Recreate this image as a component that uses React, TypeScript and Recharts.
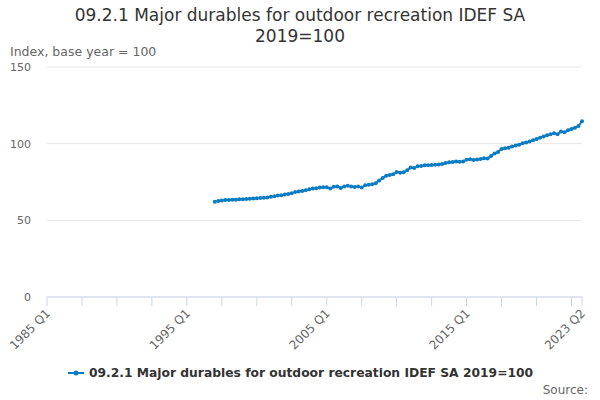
import { LineChart, Line, XAxis, YAxis, CartesianGrid } from 'recharts';

const TITLE_LINES = ['09.2.1 Major durables for outdoor recreation IDEF SA', '2019=100'];
const SERIES_NAME = '09.2.1 Major durables for outdoor recreation IDEF SA 2019=100';
const LINE_COLOR = '#0a7cc4';
const FONT = '"DejaVu Sans", sans-serif';

// quarterly categories, 1985 Q1 .. 2023 Q2
const quarters: string[] = [];
for (let y = 1985; y <= 2023; y++) {
  for (let q = 1; q <= 4; q++) {
    if (y === 2023 && q > 2) break;
    quarters.push(`${y} Q${q}`);
  }
}

const firstQuarter = '1997 Q1';

// index values from 1997 Q1 onwards
const values = [
  62.2, 62.6, 63.0, 63.2, // 1997
  63.3, 63.4, 63.5, 63.7, // 1998
  63.8, 63.9, 64.1, 64.3, // 1999
  64.4, 64.5, 64.7, 64.9, // 2000
  65.3, 65.7, 66.2, 66.3, // 2001
  66.8, 67.2, 67.6, 68.4, // 2002
  68.8, 69.2, 69.7, 70.2, // 2003
  70.8, 71.0, 71.4, 71.6, // 2004
  71.6, 70.8, 71.9, 72.0, // 2005
  71.1, 72.0, 72.5, 72.1, // 2006
  71.8, 72.0, 71.4, 72.8, // 2007
  73.2, 73.5, 74.2, 76.0, // 2008
  77.6, 79.0, 79.6, 80.0, // 2009
  81.6, 81.0, 81.4, 82.6, // 2010
  84.4, 84.2, 85.2, 85.5, // 2011
  85.9, 86.0, 86.1, 86.2, // 2012
  86.4, 86.8, 87.4, 87.8, // 2013
  88.0, 88.3, 88.2, 88.4, // 2014
  89.5, 89.8, 89.4, 89.6, // 2015
  90.0, 90.5, 90.4, 92.0, // 2016
  93.6, 94.6, 96.5, 97.0, // 2017
  97.3, 98.2, 98.8, 99.3, // 2018
  100.2, 100.8, 101.4, 102.3, // 2019
  103.0, 103.9, 104.7, 105.5, // 2020
  106.2, 106.8, 106.2, 108.0, // 2021
  107.4, 108.8, 109.6, 110.4, // 2022
  111.5, 114.6, // 2023
];

const yTicks = [0, 50, 100, 150];
const labelledQuarters = ['1985 Q1', '1995 Q1', '2005 Q1', '2015 Q1', '2023 Q2'];

const startIdx = quarters.indexOf(firstQuarter);
const data = quarters.map((quarter, i) => ({
  idx: i,
  quarter,
  value: i >= startIdx ? values[i - startIdx] : null,
}));

const lastIdx = quarters.length - 1;
const xTicks: number[] = [];
for (let i = 0; i <= lastIdx; i += 10) xTicks.push(i);
xTicks.push(lastIdx);

const QuarterTick = (props: any) => {
  const { x, y, payload } = props;
  const label = quarters[payload.value];
  if (!labelledQuarters.includes(label)) return null;
  return (
    <g transform={`translate(${x + 4},${y + 6})`}>
      <text x={0} y={0} textAnchor="end" transform="rotate(-45)" fill="#666" fontSize={12} fontFamily={FONT}>
        {label}
      </text>
    </g>
  );
};

export default function App() {
  return (
    <div style={{ position: 'absolute', left: 0, top: 0, width: 600, height: 400, background: '#fff', fontFamily: FONT }}>
      <div style={{ position: 'absolute', top: 5, left: 0, width: 600, textAlign: 'center', fontSize: 17, lineHeight: '21px', color: '#333' }}>
        {TITLE_LINES.map((t) => (
          <div key={t}>{t}</div>
        ))}
      </div>
      <div style={{ position: 'absolute', top: 44, left: 10, fontSize: 12.5, color: '#666' }}>Index, base year = 100</div>

      <LineChart width={600} height={400} data={data} margin={{ top: 67, right: 18, bottom: 43, left: 0 }}>
        <CartesianGrid vertical={false} stroke="#e6e6e6" />
        <XAxis
          dataKey="idx"
          type="number"
          domain={[0, lastIdx]}
          ticks={xTicks}
          interval={0}
          height={60}
          stroke="#ccd6eb"
          tickSize={9}
          tick={<QuarterTick />}
        />
        <YAxis
          domain={[0, 150]}
          ticks={yTicks}
          width={47}
          axisLine={false}
          tickLine={false}
          tick={{ fill: '#666', fontSize: 11, fontFamily: FONT }}
          tickMargin={10}
        />
        <Line
          dataKey="value"
          stroke={LINE_COLOR}
          strokeWidth={2}
          dot={{ r: 2, fill: LINE_COLOR, stroke: LINE_COLOR, strokeWidth: 0 }}
          isAnimationActive={false}
        />
      </LineChart>

      <div style={{ position: 'absolute', top: 366, left: 0, width: 600, display: 'flex', justifyContent: 'center', alignItems: 'center' }}>
        <svg width={18} height={10} style={{ marginRight: 4 }}>
          <line x1={1} y1={5} x2={17} y2={5} stroke={LINE_COLOR} strokeWidth={2} />
          <circle cx={9} cy={5} r={2.5} fill={LINE_COLOR} />
        </svg>
        <span style={{ fontSize: 12.3, fontWeight: 'bold', color: '#333' }}>{SERIES_NAME}</span>
      </div>
      <div style={{ position: 'absolute', top: 383, right: 12, fontSize: 12, color: '#666' }}>Source:</div>
    </div>
  );
}
